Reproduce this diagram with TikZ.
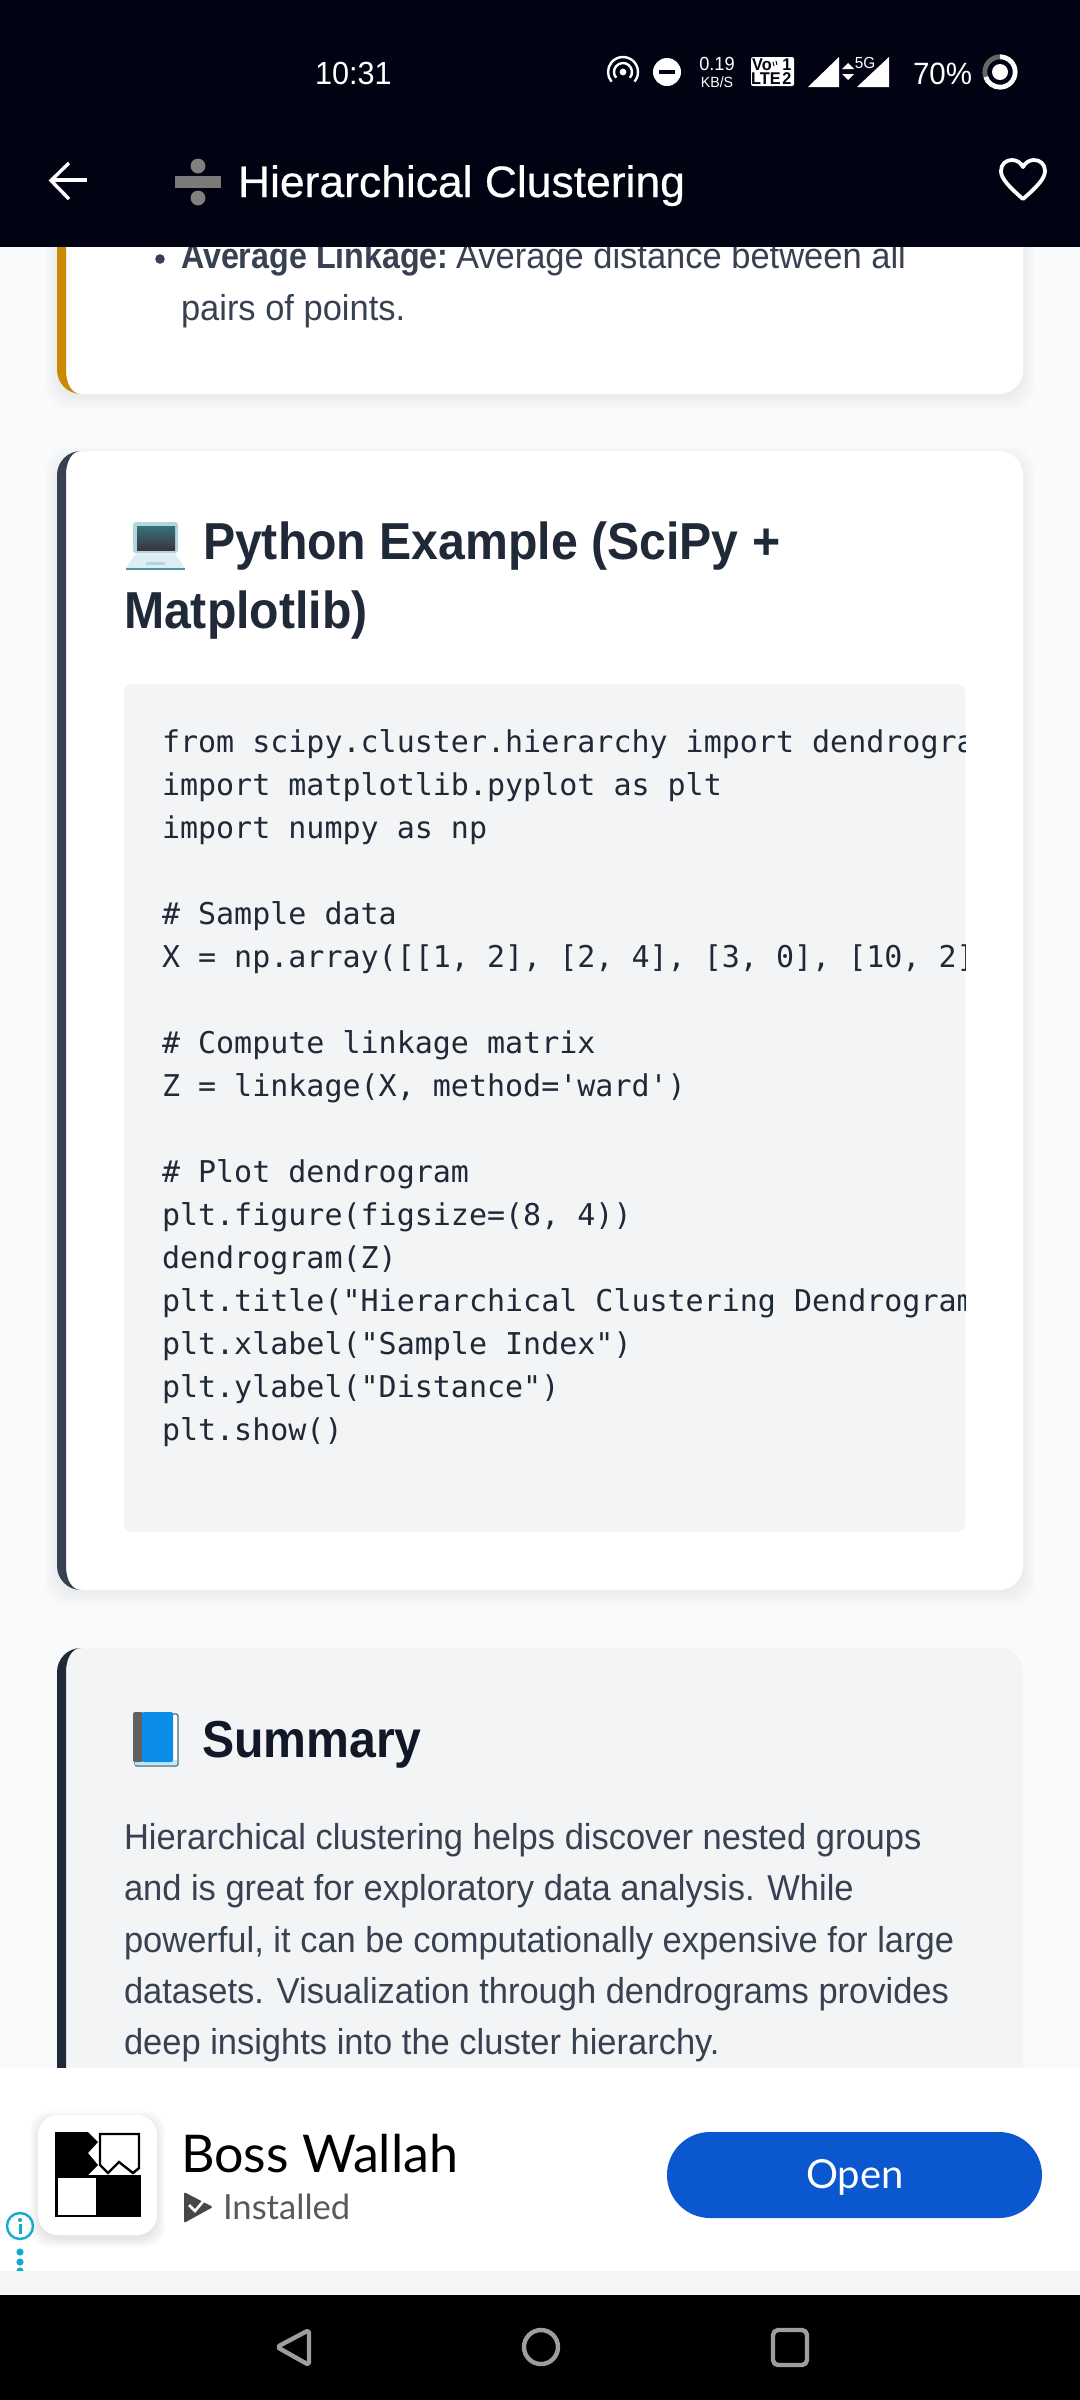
\documentclass[tikz,border=0pt]{standalone}
\usepackage{fontspec}
\setmainfont[FakeStretch=0.958]{Liberation Sans}
\setmonofont{DejaVu Sans Mono}
\newfontfamily\adfont{Lato}
\newfontfamily\headfont[FakeStretch=0.927]{Liberation Sans}
\newfontfamily\leadfont[FakeStretch=0.896]{Liberation Sans}
\newfontfamily\titlefont[FakeStretch=1.01,FakeBold=0.5]{Liberation Sans}
\definecolor{barbg}{HTML}{020312}
\definecolor{pagebg}{HTML}{F9FAFB}
\definecolor{softbg}{HTML}{F3F4F6}
\definecolor{bodyink}{HTML}{374151}
\definecolor{headink}{HTML}{1F2937}
\definecolor{darkink}{HTML}{111827}
\definecolor{amberedge}{HTML}{CA8A04}
\definecolor{openblue}{HTML}{0B57D0}
\definecolor{navgray}{HTML}{9E9E9E}
\definecolor{infoblue}{HTML}{12ABCB}
\definecolor{laptopframe}{HTML}{B2D6DF}
\definecolor{laptopbase}{HTML}{DFEEF2}
\definecolor{laptopedge}{HTML}{4B93A5}
\definecolor{laptoptop}{HTML}{35727A}
\definecolor{laptoplow}{HTML}{3B3340}
\definecolor{bookblue}{HTML}{0A8CE8}
\tikzset{
  textnode/.style={inner sep=0pt,outer sep=0pt,anchor=base west},
  statustext/.style={textnode,text=white,font=\fontsize{15}{18}\selectfont},
  apptitle/.style={textnode,text=white,font=\fontsize{22}{26}\titlefont\selectfont},
  bodytext/.style={textnode,text=bodyink,font=\fontsize{18}{25}\selectfont},
  cardhead/.style={textnode,text=headink,font=\fontsize{26}{32}\headfont\bfseries\selectfont},
  codeline/.style={textnode,text=headink,font=\fontsize{15}{21}\ttfamily\selectfont},
  volte/.style={inner sep=0pt,text=barbg,font=\fontsize{8.5}{9}\bfseries\selectfont},
  softshadow/.style={fill=black,fill opacity=.007,rounded corners=12pt},
  navicon/.style={draw=navgray,line width=2.2pt,line join=round}
}
\newcommand{\cardshadow}[2]{%
  \foreach \n in {0,2,...,12}
    \path[softshadow] ({57-\n},{#1-\n+7}) rectangle ({1023+\n},{#2+\n+4});}
\begin{document}
\begin{tikzpicture}[x=0.5pt,y=-0.5pt]
\useasboundingbox (0,0) rectangle (1080,2400);
\path[fill=pagebg] (0,0) rectangle (1080,2400);

\cardshadow{100}{394}
\path[fill=white,rounded corners=12pt] (57,100) rectangle (1023,394);
\path[fill=amberedge] (81,394) arc[start angle=270,end angle=180,radius=12pt] -- (57,100) -- (66,100) -- (66,370) .. controls (66,384) and (72,394) .. cycle;
\path[fill=bodyink] (160,259) circle[radius=2.4pt];
\node[bodytext,font=\fontsize{18}{25}\leadfont\bfseries\selectfont] (avgbold) at (181,268) {Average Linkage:};
\node[bodytext] (avgrest) at (456,268) {Average distance between all};
\node[bodytext] (avgnext) at (181,320) {pairs of points.};

\cardshadow{451}{1590}
\path[fill=white,rounded corners=12pt] (57,451) rectangle (1023,1590);
\path[fill=bodyink] (81,451) arc[start angle=90,end angle=180,radius=12pt] -- (57,1566) arc[start angle=180,end angle=270,radius=12pt] .. controls (72,1590) and (66,1580) .. (66,1566) -- (66,475) .. controls (66,461) and (72,451) .. cycle;
\path[fill=laptopframe,rounded corners=1.5pt] (133,522) rectangle (178,553);
\path[top color=laptoptop,bottom color=laptoplow] (137,526) rectangle (175,550);
\path[fill=laptopbase] (136,553) -- (175,553) -- (185,568) -- (126,568) -- cycle;
\path[fill=laptopframe] (146,562) rectangle (165,565);
\path[fill=laptopedge] (126,568) rectangle (185,570);
\node[cardhead] (pyhead) at (203,559) {Python Example (SciPy +};
\node[cardhead] (pynext) at (124,628) {Matplotlib)};

\path[fill=softbg,rounded corners=4pt] (124,684) rectangle (965,1532);
\begin{scope}
\clip (124,684) rectangle (965,1532);
\node[codeline] (code1) at (162,752) {from scipy.cluster.hierarchy import dendrogra};
\node[codeline] (code2) at (162,795) {import matplotlib.pyplot as plt};
\node[codeline] (code3) at (162,838) {import numpy as np};
\node[codeline] (code4) at (162,924) {\# Sample data};
\node[codeline] (code5) at (162,967) {X = np.array([[1, 2], [2, 4], [3, 0], [10, 2]};
\node[codeline] (code6) at (162,1053) {\# Compute linkage matrix};
\node[codeline] (code7) at (162,1096) {Z = linkage(X, method='ward')};
\node[codeline] (code8) at (162,1182) {\# Plot dendrogram};
\node[codeline] (code9) at (162,1225) {plt.figure(figsize=(8, 4))};
\node[codeline] (code10) at (162,1268) {dendrogram(Z)};
\node[codeline] (code11) at (162,1311) {plt.title("Hierarchical Clustering Dendrogram};
\node[codeline] (code12) at (162,1354) {plt.xlabel("Sample Index")};
\node[codeline] (code13) at (162,1397) {plt.ylabel("Distance")};
\node[codeline] (code14) at (162,1440) {plt.show()};
\end{scope}

\path[fill=softbg,rounded corners=12pt] (57,1648) rectangle (1023,2200);
\path[fill=headink] (81,1648) arc[start angle=90,end angle=180,radius=12pt] -- (57,2200) -- (66,2200) -- (66,1672) .. controls (66,1658) and (72,1648) .. cycle;
\path[fill=white,draw=black!60!cyan,line width=.6pt,rounded corners=1pt] (135,1714) rectangle (178,1766);
\path[fill=cyan!25!white] (135,1760) rectangle (177,1765);
\path[fill=black!62,rounded corners=1pt] (133,1712) rectangle (143,1762);
\path[fill=bookblue,rounded corners=1pt] (142,1712) rectangle (173,1762);
\node[cardhead,text=darkink] (sumhead) at (202,1757) {Summary};
\node[bodytext] (sum1) at (124,1849) {Hierarchical clustering helps discover nested groups};
\node[bodytext] (sum2) at (124,1900) {and is great for exploratory data analysis. While};
\node[bodytext] (sum3) at (124,1952) {powerful, it can be computationally expensive for large};
\node[bodytext] (sum4) at (124,2003) {datasets. Visualization through dendrograms provides};
\node[bodytext] (sum5) at (124,2054) {deep insights into the cluster hierarchy.};

\path[fill=barbg] (0,0) rectangle (1080,247);
\node[statustext,font=\fontsize{16}{18}\selectfont] (clock) at (315,84) {10:31};
\path[draw=white,line width=1.2pt] (623,72) ++(-40:7.5pt) arc[start angle=-40,end angle=220,radius=7.5pt];
\path[draw=white,line width=1.2pt] (623,72) ++(-40:4.5pt) arc[start angle=-40,end angle=220,radius=4.5pt];
\path[fill=white] (623,72) circle[radius=1.7pt];
\path[fill=white] (667,72) circle[radius=7pt];
\path[fill=barbg] (659,70) rectangle (675,74);
\node[statustext,anchor=center,font=\fontsize{9.5}{11}\selectfont] (kbrate) at (717,64) {0.19};
\node[statustext,anchor=center,font=\fontsize{7.4}{9}\selectfont] (kbunit) at (717,82) {KB/S};
\path[fill=white,rounded corners=1pt] (751,57) rectangle (794,86);
\node[volte] (volabel) at (762,64.5) {Vo};
\node[volte] (voone) at (787,64.5) {1};
\node[volte] (ltelabel) at (766,79) {LTE};
\node[volte] (ltetwo) at (787,79) {2};
\path[draw=barbg,line width=.5pt] (773,62) -- (774,66);
\path[draw=barbg,line width=.5pt] (776,61) -- (777,65);
\path[fill=white] (808,87) -- (839,57) -- (839,87) -- cycle;
\path[fill=white] (857,87) -- (889,57) -- (889,87) -- cycle;
\path[fill=white] (848,63) -- (854,69) -- (842,69) -- cycle;
\path[fill=white] (848,80) -- (854,74) -- (842,74) -- cycle;
\node[statustext,anchor=center,font=\fontsize{8}{9}\selectfont] (fiveg) at (865,63) {5G};
\node[statustext,font=\fontsize{15.4}{18}\selectfont] (battpct) at (913,84) {70\%};
\path[draw=white,line width=2.4pt] (1000,72) ++(90:7.6pt) arc[start angle=90,end angle=-162,radius=7.6pt];
\path[draw=black!60!white,line width=2.4pt] (1000,72) ++(198:7.6pt) arc[start angle=198,end angle=90,radius=7.6pt];
\path[fill=white] (1000,72) circle[radius=4pt];
\path[draw=white,line width=1.7pt] (87,180) -- (51,180);
\path[draw=white,line width=1.7pt] (69,163) -- (51,180.5) -- (69,199);
\path[fill=black!50!white] (198,166) circle[radius=3.7pt];
\path[fill=black!50!white] (198,198) circle[radius=3.7pt];
\path[fill=black!52!white] (175,176) rectangle (221,188);
\node[apptitle] (pagetitle) at (238,197) {Hierarchical Clustering};
\path[draw=white,line width=1.9pt,line join=round] (1023,199) .. controls (1008,186) and (1001,178) .. (1001,171) .. controls (1001,164) and (1006,160) .. (1012,160) .. controls (1017,160) and (1021,163) .. (1023,167) .. controls (1025,163) and (1029,160) .. (1034,160) .. controls (1040,160) and (1045,164) .. (1045,171) .. controls (1045,178) and (1038,186) .. (1023,199) -- cycle;

\path[fill=white] (0,2068) rectangle (1080,2271);
\foreach \n in {0,2,...,8}
  \path[fill=black,fill opacity=.02,rounded corners=10pt] ({38-\n},{2115-\n+4}) rectangle ({157+\n},{2235+\n+4});
\path[fill=white,rounded corners=10pt] (38,2115) rectangle (157,2235);
\path[fill=black] (55,2175) rectangle (141,2217);
\path[fill=white] (58,2178) rectangle (96,2215);
\path[fill=black] (55,2132) -- (88,2132) -- (98,2142) -- (88,2153) -- (98,2165) -- (88,2175) -- (55,2175) -- cycle;
\path[fill=white,draw=black,line width=1.2pt] (100,2134) -- (139,2134) -- (139,2168) -- (133,2173) -- (119,2162) -- (108,2173) -- (100,2165) -- cycle;
\path[draw=infoblue,line width=1.2pt] (20,2226) circle[radius=6.5pt];
\path[fill=infoblue] (20,2220) circle[radius=1pt];
\path[fill=infoblue] (18.5,2224) rectangle (21.5,2234);
\path[fill=infoblue] (20,2252) circle[radius=1.8pt];
\path[fill=infoblue] (20,2262) circle[radius=1.8pt];
\path[fill=infoblue] (20,2271) circle[radius=1.8pt];
\node[textnode,text=black,font=\fontsize{26}{32}\adfont\selectfont] (adname) at (181,2172) {Boss Wallah};
\path[fill=black!72!white,rounded corners=1pt] (184,2192) -- (213,2207) -- (184,2223) -- cycle;
\path[draw=white,line width=1.3pt] (189,2205) -- (195,2211) -- (206,2198);
\node[textnode,text=black!65!white,font=\fontsize{17.3}{20}\adfont\selectfont] (adstate) at (223,2219) {Installed};
\path[fill=openblue,rounded corners=21.5pt] (667,2132) rectangle (1042,2218);
\node[inner sep=0pt,text=white,font=\fontsize{20}{22}\adfont\selectfont] (adopen) at (855,2177) {Open};
\path[fill=softbg!90!white] (0,2271) rectangle (1080,2295);
\path[fill=black] (0,2295) rectangle (1080,2400);
\path[navicon,rounded corners=1.5pt] (309,2330) -- (277,2347) -- (309,2365) -- cycle;
\path[navicon] (541,2347) circle[radius=8.5pt];
\path[navicon,rounded corners=2.5pt] (773,2330) rectangle (807,2365);
\end{tikzpicture}
\end{document}
